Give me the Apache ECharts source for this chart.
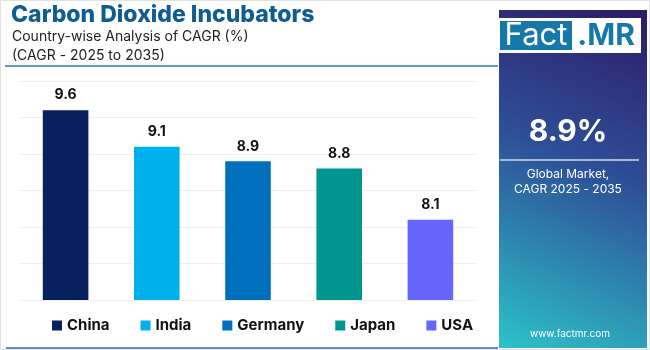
<!DOCTYPE html>
<html>
<head>
<meta charset="utf-8">
<script src="https://cdn.jsdelivr.net/npm/echarts@6/dist/echarts.min.js"></script>
<style>
	html, body { margin: 0; padding: 0; background: #fff; }
	#chart { width: 650px; height: 350px; }
</style>
</head>
<body>
<div id="chart"></div>
<script>
// data
var countries = ['China', 'India', 'Germany', 'Japan', 'USA'];
var cagrValues = [9.6, 9.1, 8.9, 8.8, 8.1];
var barColors = ['#06215e', '#00b0ec', '#0070be', '#00968f', '#6666ff'];
var globalCagr = '8.9%';

var font = 'Inter, "Open Sans", sans-serif';

var myChart = echarts.init(document.getElementById('chart'));

// one series per country so the legend shows each one
var series = countries.map(function (name, i) {
	var data = countries.map(function (c, j) { return j === i ? cagrValues[i] : '-'; });
	return {
		name: name,
		type: 'bar',
		data: data,
		barWidth: '50%',
		barGap: '-100%',
		itemStyle: { color: barColors[i] },
		label: {
			show: true,
			position: 'top',
			distance: 8,
			color: '#111',
			fontSize: 14,
			fontWeight: 'bold',
			fontFamily: font
		}
	};
});

var option = {
	animation: false,
	color: barColors,
	grid: { left: 20, right: 174, top: 81, bottom: 50 },
	xAxis: {
		type: 'category',
		data: countries,
		axisLine: { show: false },
		axisTick: { show: false },
		axisLabel: { show: false }
	},
	yAxis: {
		type: 'value',
		min: 7,
		max: 10,
		interval: 0.5,
		axisLabel: { show: false },
		splitLine: { lineStyle: { color: '#efeff2' } }
	},
	legend: {
		left: 47,
		top: 313,
		icon: 'rect',
		itemWidth: 10,
		itemHeight: 10,
		itemGap: 31,
		textStyle: { fontSize: 15, fontWeight: 'bold', color: '#111', fontFamily: font }
	},
	graphic: [
		{ type: 'rect', shape: { x: 0.5, y: 0.5, width: 649, height: 349 }, style: { fill: 'none', stroke: '#e2e2e2' }, z: -1 },
		{ type: 'text', left: 11, top: 4, style: { text: 'Carbon Dioxide Incubators', fill: '#0f5c93', font: '800 23px ' + font } },
		{ type: 'text', left: 12, top: 30, style: { text: 'Country-wise Analysis of CAGR (%)', fill: '#222', font: '14px ' + font } },
		{ type: 'text', left: 12, top: 49, style: { text: '(CAGR - 2025 to 2035)', fill: '#222', font: '14px ' + font } },
		{ type: 'line', shape: { x1: 5, y1: 66, x2: 498, y2: 66 }, style: { stroke: '#2a78ad', lineWidth: 1.5 } },
		{ type: 'line', shape: { x1: 6, y1: 348, x2: 498, y2: 348 }, style: { stroke: '#5a8fc0', lineWidth: 2 } },
		{
			type: 'rect', shape: { x: 499, y: 10, width: 148, height: 338 },
			style: {
				fill: new echarts.graphic.LinearGradient(1, 0, 0, 1, [
					{ offset: 0, color: '#2e1a66' },
					{ offset: 0.45, color: '#2e4f97' },
					{ offset: 1, color: '#2cc2c8' }
				])
			}
		},
		{ type: 'rect', shape: { x: 497, y: 18, width: 144, height: 35 }, style: { fill: '#fff' } },
		{ type: 'rect', shape: { x: 500, y: 21, width: 72, height: 29 }, style: { fill: '#1678a8' } },
		{ type: 'text', x: 536, y: 36, style: { text: 'Fact', fill: '#fff', font: '31px ' + font, textAlign: 'center', textVerticalAlign: 'middle' } },
		{ type: 'text', x: 606, y: 36, style: { text: '.MR', fill: '#1678a8', font: 'bold 30px ' + font, textAlign: 'center', textVerticalAlign: 'middle' } },
		{ type: 'text', x: 568, y: 132, style: { text: globalCagr, fill: '#fff', font: 'bold 30px ' + font, textAlign: 'center', textVerticalAlign: 'middle' } },
		{ type: 'line', shape: { x1: 500, y1: 160, x2: 639, y2: 160 }, style: { stroke: '#a9b6d6', lineWidth: 2 } },
		{ type: 'text', x: 568, y: 174, style: { text: 'Global Market,', fill: '#fff', font: '12px ' + font, textAlign: 'center', textVerticalAlign: 'middle' } },
		{ type: 'text', x: 568, y: 189, style: { text: 'CAGR 2025 - 2035', fill: '#fff', font: '12px ' + font, textAlign: 'center', textVerticalAlign: 'middle' } },
		{ type: 'text', x: 570, y: 334, style: { text: 'www.factmr.com', fill: '#fff', font: '10px ' + font, textAlign: 'center', textVerticalAlign: 'middle' } }
	],
	series: series
};

myChart.setOption(option);
</script>
</body>
</html>
